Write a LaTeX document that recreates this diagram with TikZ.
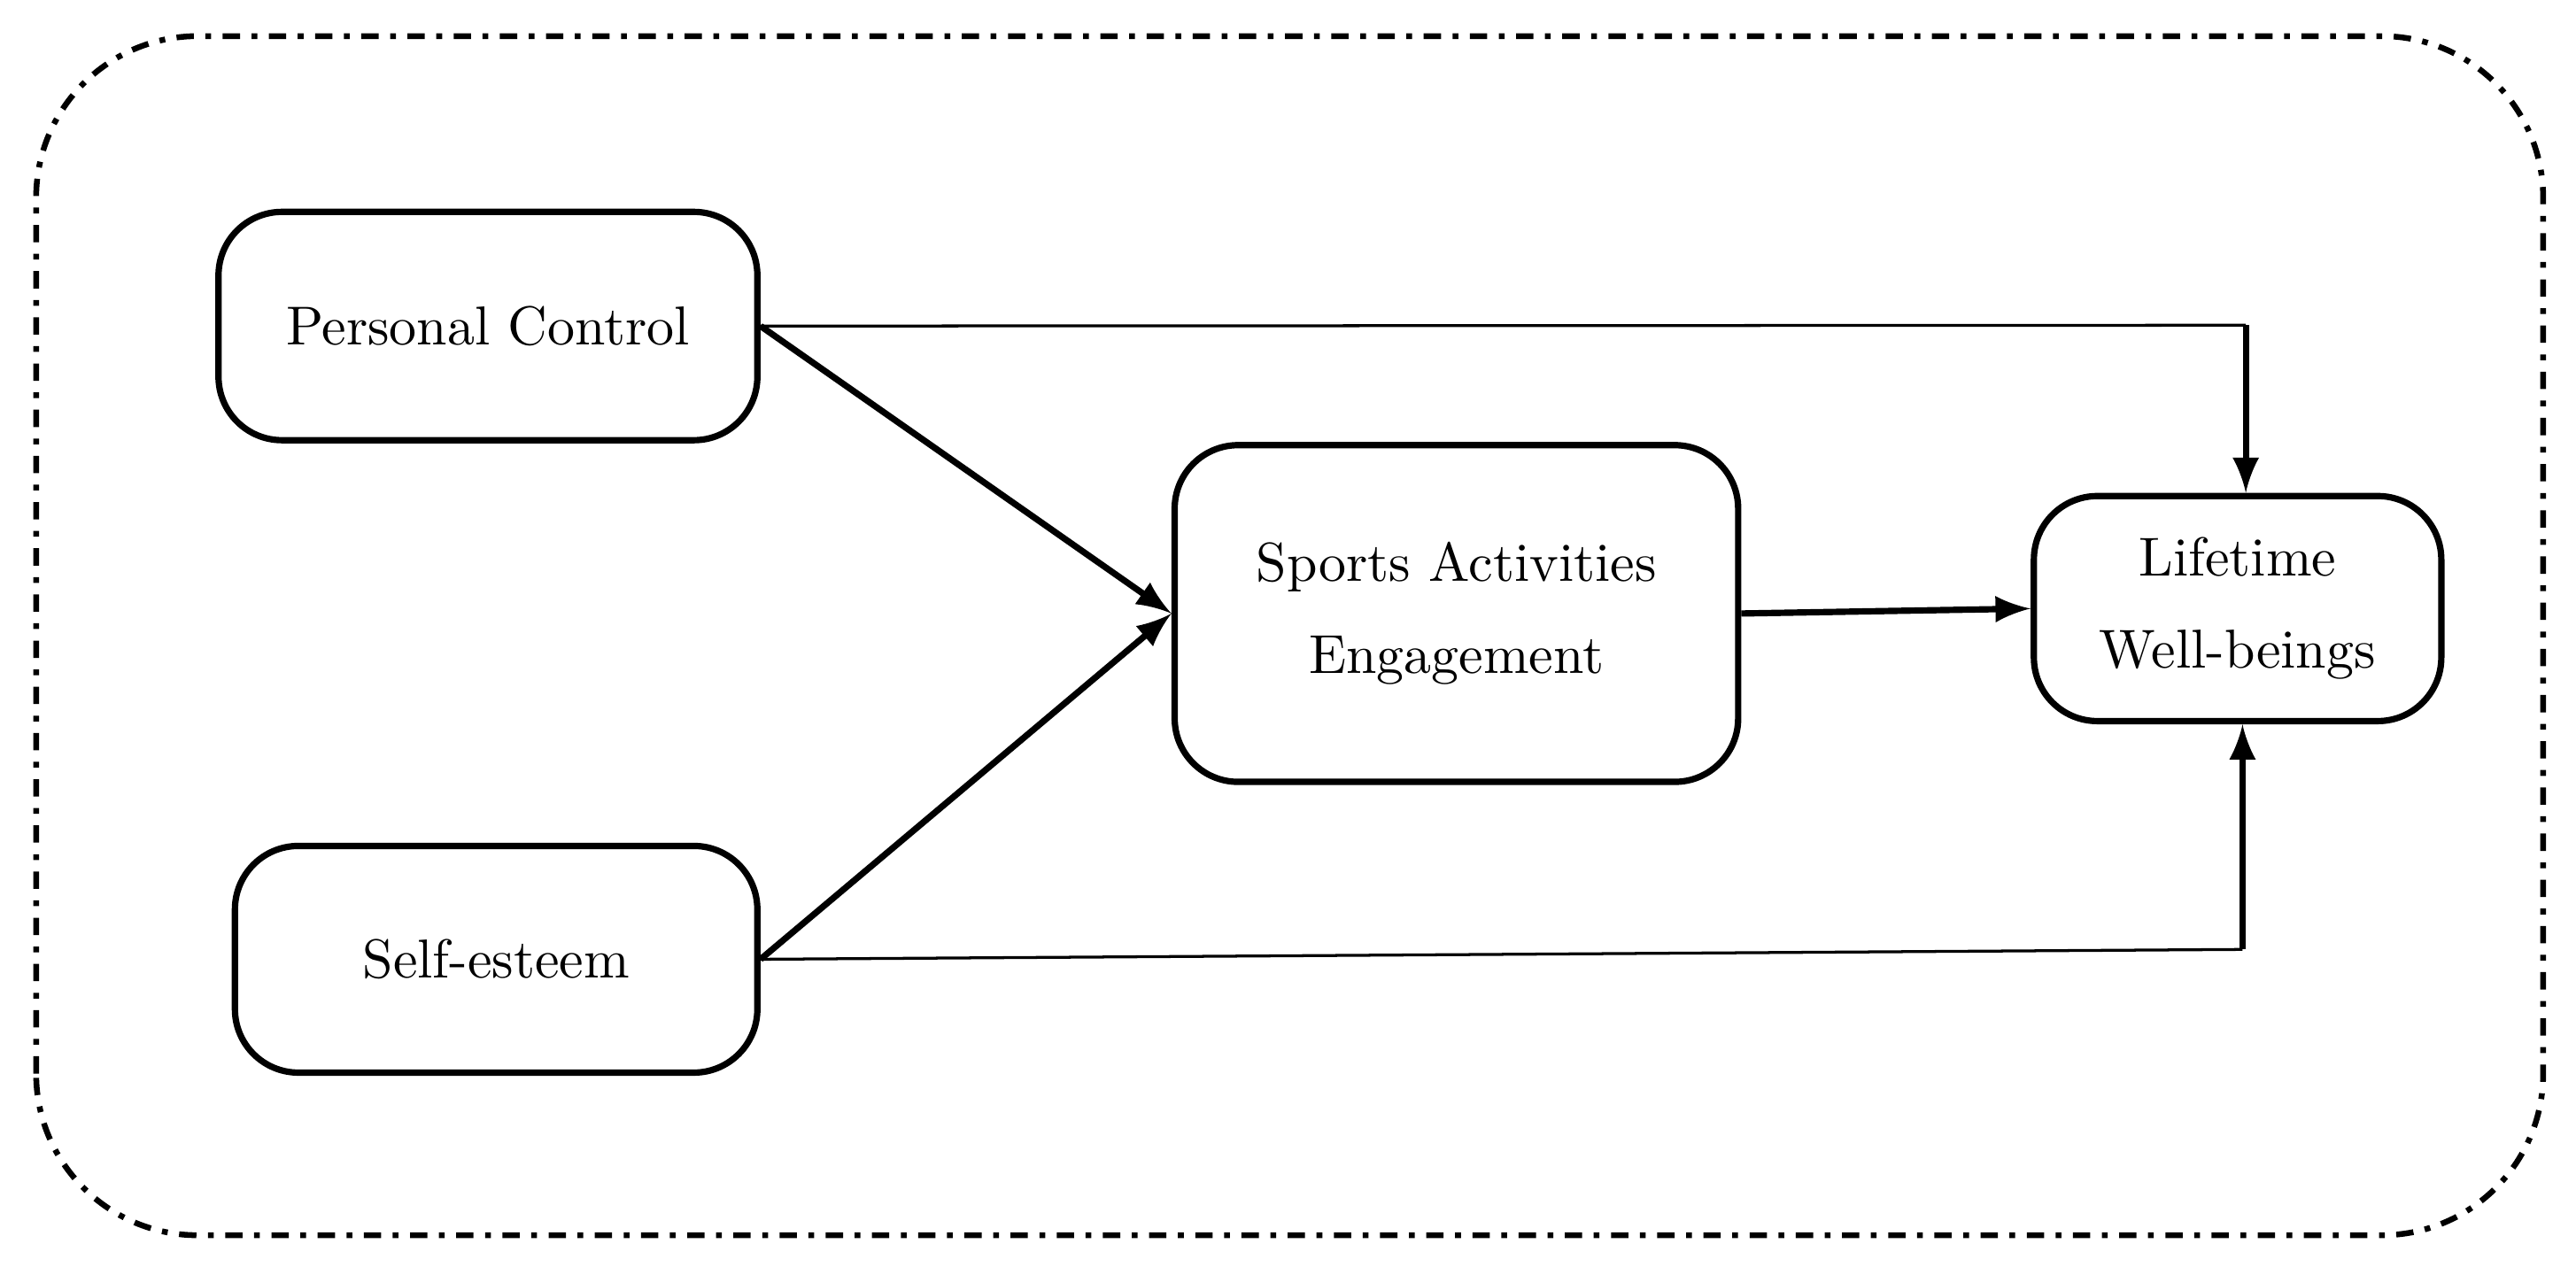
\documentclass[tikz,border=0pt]{standalone}
\usepackage{tikz}
\tikzset{box/.style={draw,line width=1.1pt,rounded corners=11pt,align=center,font=\fontsize{9.5}{16}\selectfont},
         main/.style={line width=1.1pt,-latex},
         side/.style={line width=0.5pt}}

\begin{document}
\begin{tikzpicture}[x=1cm,y=1cm]
    \useasboundingbox (0,0) rectangle (15.68,7.71);
    \draw [line width=1pt, dash dot, rounded corners=28pt] (0.22,0.19) rectangle (15.48,7.49);

    \node [box, minimum width=3.28cm, minimum height=1.39cm] (pc) at (2.97,5.725) {Personal Control};
    \node [box, minimum width=3.18cm, minimum height=1.38cm] (se) at (3.02,1.87) {Self-esteem};
    \node [box, minimum width=3.43cm, minimum height=2.05cm] (sae) at (8.865,3.975) {Sports Activities\\Engagement};
    \node [box, minimum width=2.48cm, minimum height=1.37cm] (lw) at (13.62,4.005) {Lifetime\\Well-beings};

    \draw [main] (pc.east) -- (sae.west);
    \draw [main] (se.east) -- (sae.west);
    \draw [main] (sae.east) -- (lw.west);

    \coordinate (tc) at (13.67,5.73);
    \coordinate (bc) at (13.65,1.93);
    \draw [side] (pc.east) -- (tc);
    \draw [main] (tc) -- (tc |- lw.north);
    \draw [side] (se.east) -- (bc);
    \draw [main] (bc) -- (bc |- lw.south);
\end{tikzpicture}
\end{document}
